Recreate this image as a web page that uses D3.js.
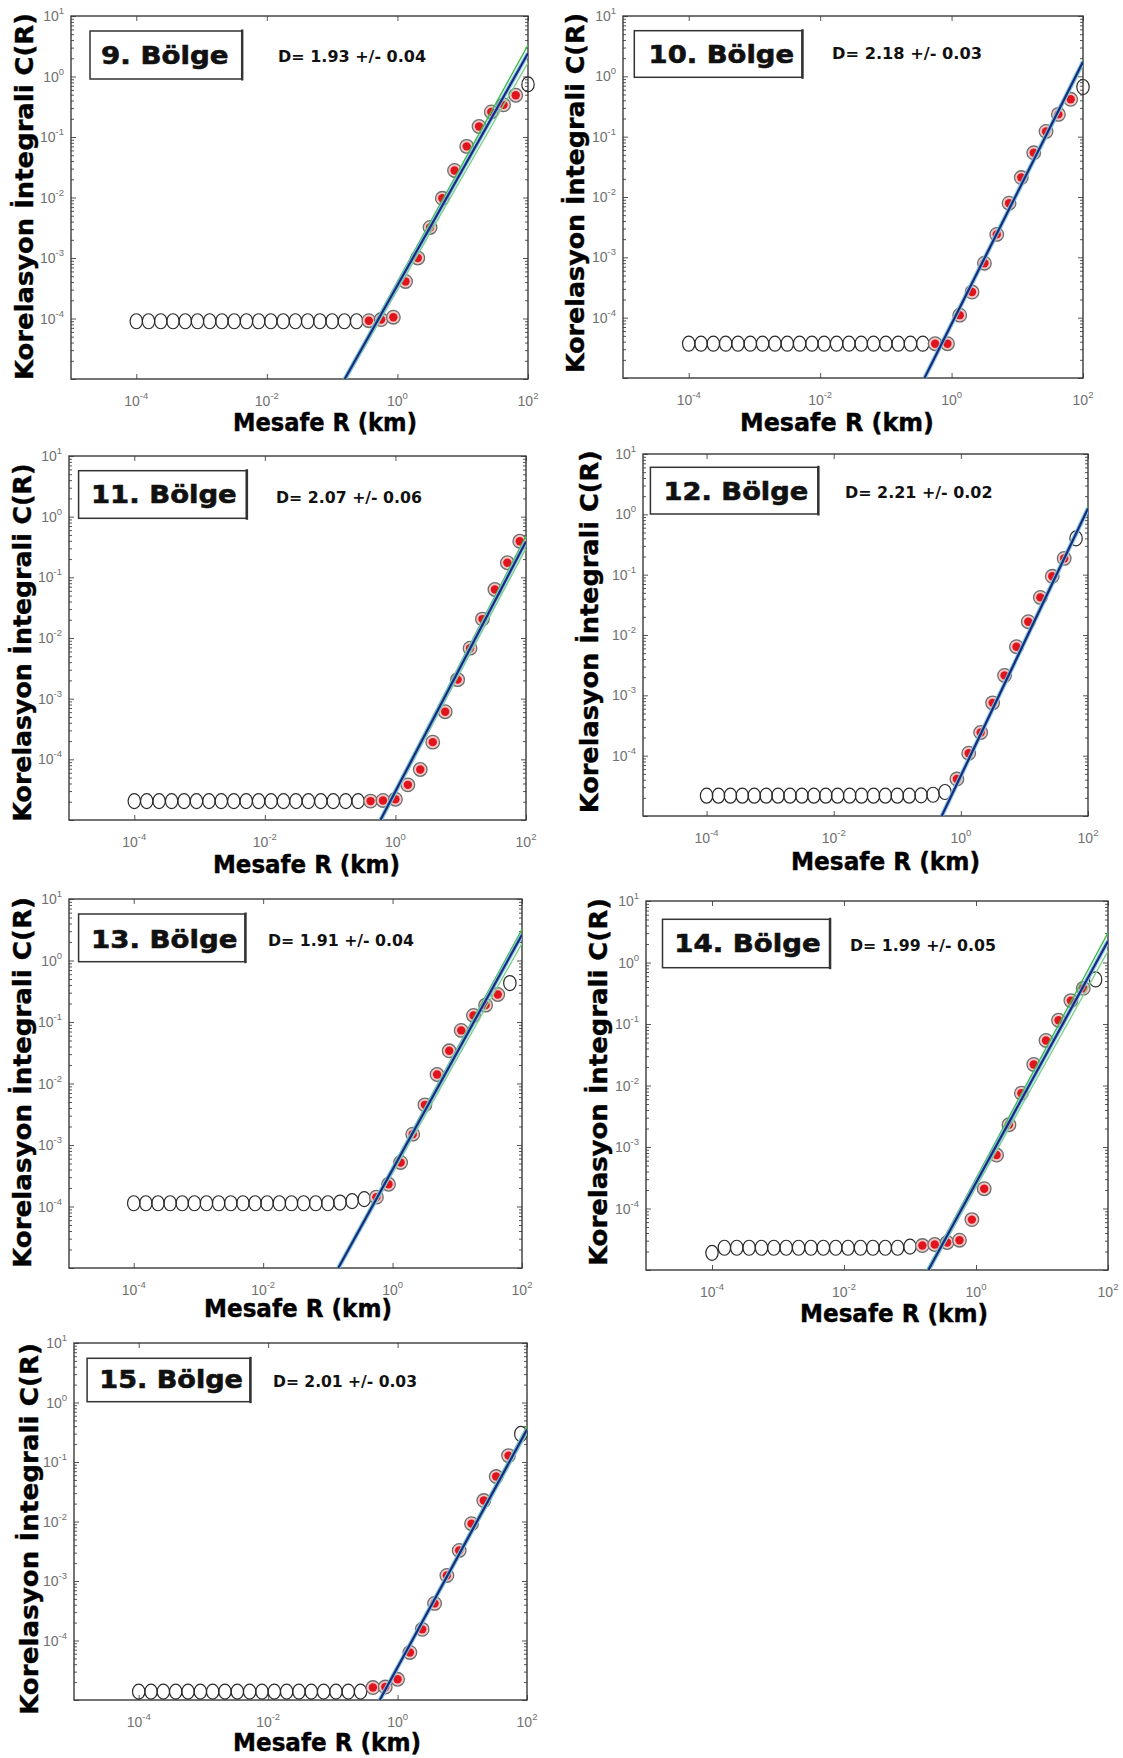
<!DOCTYPE html>
<html><head><meta charset="utf-8">
<script src="https://cdn.jsdelivr.net/npm/d3@7"></script>
<style>body{margin:0;background:#fff}svg{display:block}</style>
</head><body><svg id="c" width="1123" height="1758"></svg>
<script>
// ---------- DATA ----------
// distance grids (km)
const R_A = [1.00e-4, 1.54e-4, 2.37e-4, 3.65e-4, 5.62e-4, 8.66e-4, 1.33e-3, 2.05e-3, 3.16e-3, 4.87e-3,
  7.50e-3, 1.15e-2, 1.78e-2, 2.74e-2, 4.22e-2, 6.49e-2, 0.100, 0.154, 0.237, 0.365,
  0.562, 0.866, 1.33, 2.05, 3.16, 4.87, 7.50, 11.5, 17.8, 27.4, 42.2, 64.9, 100];
const R_B = [1.00e-4, 1.55e-4, 2.40e-4, 3.73e-4, 5.78e-4, 8.96e-4, 1.39e-3, 2.15e-3, 3.34e-3, 5.18e-3,
  8.03e-3, 1.245e-2, 1.93e-2, 2.99e-2, 4.64e-2, 7.20e-2, 0.1116, 0.173, 0.268, 0.416,
  0.645, 1.0, 1.55, 2.40, 3.73, 5.78, 8.96, 13.9, 21.5, 33.4, 51.8, 80.3];

const regions = ["9. Bölge", "10. Bölge", "11. Bölge", "12. Bölge", "13. Bölge", "14. Bölge", "15. Bölge"];
const dLabels = ["D= 1.93 +/- 0.04", "D= 2.18 +/- 0.03", "D= 2.07 +/- 0.06", "D= 2.21 +/- 0.02",
  "D= 1.91 +/- 0.04", "D= 1.99 +/- 0.05", "D= 2.01 +/- 0.03"];

const C9 = [9.0e-5, 9.0e-5, 9.0e-5, 9.0e-5, 9.0e-5, 9.0e-5, 9.0e-5, 9.0e-5, 9.0e-5, 9.0e-5,
  9.0e-5, 9.0e-5, 9.0e-5, 9.0e-5, 9.0e-5, 9.0e-5, 9.0e-5, 9.0e-5, 9.0e-5, 9.2e-5,
  9.6e-5, 1.05e-4, 4.1e-4, 1.0e-3, 3.2e-3, 9.7e-3, 2.8e-2, 7.0e-2, 0.149, 0.26, 0.34, 0.49, 0.74];
const C10 = [3.7e-5, 3.7e-5, 3.7e-5, 3.7e-5, 3.7e-5, 3.7e-5, 3.7e-5, 3.7e-5, 3.7e-5, 3.7e-5,
  3.7e-5, 3.7e-5, 3.7e-5, 3.7e-5, 3.7e-5, 3.7e-5, 3.7e-5, 3.7e-5, 3.7e-5, 3.7e-5,
  3.7e-5, 3.7e-5, 1.1e-4, 2.66e-4, 8.0e-4, 2.4e-3, 7.9e-3, 2.1e-2, 5.4e-2, 0.122, 0.234, 0.416, 0.665];
const C11 = [2.05e-5, 2.05e-5, 2.05e-5, 2.05e-5, 2.05e-5, 2.05e-5, 2.05e-5, 2.05e-5, 2.05e-5, 2.05e-5,
  2.05e-5, 2.05e-5, 2.05e-5, 2.05e-5, 2.05e-5, 2.05e-5, 2.05e-5, 2.05e-5, 2.05e-5, 2.05e-5,
  2.1e-5, 2.2e-5, 3.8e-5, 6.8e-5, 1.92e-4, 6.1e-4, 2.06e-3, 6.8e-3, 2.05e-2, 6.3e-2, 0.174, 0.393];
const C12 = [2.17e-5, 2.17e-5, 2.17e-5, 2.17e-5, 2.17e-5, 2.17e-5, 2.17e-5, 2.17e-5, 2.17e-5, 2.17e-5,
  2.17e-5, 2.17e-5, 2.17e-5, 2.17e-5, 2.17e-5, 2.17e-5, 2.17e-5, 2.17e-5, 2.2e-5, 2.25e-5,
  2.5e-5, 4.1e-5, 1.1e-4, 2.42e-4, 7.5e-4, 2.14e-3, 6.4e-3, 1.66e-2, 4.2e-2, 9.4e-2, 0.186, 0.40];
const C13 = [1.13e-4, 1.13e-4, 1.13e-4, 1.13e-4, 1.13e-4, 1.13e-4, 1.13e-4, 1.13e-4, 1.13e-4, 1.13e-4,
  1.13e-4, 1.13e-4, 1.13e-4, 1.13e-4, 1.13e-4, 1.13e-4, 1.13e-4, 1.16e-4, 1.22e-4, 1.32e-4,
  1.42e-4, 2.3e-4, 5.2e-4, 1.5e-3, 4.5e-3, 1.4e-2, 3.4e-2, 7.3e-2, 0.128, 0.188, 0.28, 0.43];
const C14 = [1.9e-5, 2.3e-5, 2.3e-5, 2.3e-5, 2.3e-5, 2.3e-5, 2.3e-5, 2.3e-5, 2.3e-5, 2.3e-5,
  2.3e-5, 2.3e-5, 2.3e-5, 2.3e-5, 2.3e-5, 2.3e-5, 2.4e-5, 2.5e-5, 2.6e-5, 2.8e-5,
  3.05e-5, 6.6e-5, 2.1e-4, 7.4e-4, 2.3e-3, 7.5e-3, 2.2e-2, 5.4e-2, 0.115, 0.24, 0.38, 0.53];
const C15 = [1.38e-5, 1.38e-5, 1.38e-5, 1.38e-5, 1.38e-5, 1.38e-5, 1.38e-5, 1.38e-5, 1.38e-5, 1.38e-5,
  1.38e-5, 1.38e-5, 1.38e-5, 1.38e-5, 1.38e-5, 1.38e-5, 1.38e-5, 1.38e-5, 1.38e-5, 1.62e-5,
  1.65e-5, 2.23e-5, 6.3e-5, 1.54e-4, 4.2e-4, 1.24e-3, 3.26e-3, 9.2e-3, 2.25e-2, 5.7e-2, 0.128, 0.296];

const grids = [R_A, R_A, R_B, R_A, R_A, R_A, R_B];
const cValues = [C9, C10, C11, C12, C13, C14, C15];
// first / last index of the points used in the fit (red)
const fitRange = [[19, 31], [20, 31], [19, 31], [21, 30], [20, 30], [17, 30], [19, 30]];

// fitted lines: endpoints [R, C]
const navyLines = [
  [[0.156, 1e-5], [100, 2.42]], [[0.387, 1e-5], [100, 1.75]], [[0.59, 1e-5], [100, 0.39]],
  [[0.50, 1e-5], [100, 1.25]], [[0.145, 1e-5], [100, 2.63]], [[0.19, 1e-5], [100, 2.23]],
  [[0.53, 1e-5], [100, 0.35]]];
const greenHi = [
  [[0.150, 1e-5], [100, 3.3]], [[0.38, 1e-5], [100, 1.85]], [[0.57, 1e-5], [100, 0.48]],
  [[0.49, 1e-5], [100, 1.36]], [[0.14, 1e-5], [100, 3.2]], [[0.18, 1e-5], [100, 3.05]],
  [[0.52, 1e-5], [100, 0.40]]];
const greenLo = [
  [[0.165, 1e-5], [100, 1.7]], [[0.395, 1e-5], [100, 1.55]], [[0.62, 1e-5], [100, 0.30]],
  [[0.51, 1e-5], [100, 1.15]], [[0.15, 1e-5], [100, 1.9]], [[0.20, 1e-5], [100, 1.53]],
  [[0.54, 1e-5], [100, 0.30]]];

const xTicks = [1e-4, 1e-2, 1e0, 1e2];
const xTickExp = ["-4", "-2", "0", "2"];
const yTicks = [1e1, 1e0, 1e-1, 1e-2, 1e-3, 1e-4];
const yTickExp = ["1", "0", "-1", "-2", "-3", "-4"];
const xTitle = "Mesafe R (km)";
const yTitle = "Korelasyon İntegrali C(R)";

// ---------- LAYOUT ----------
const layout = [
  {l:71, r:528, t:16, b:379, box:[90,31,241.7,79], lab:[101,64,127.5], dt:[278,62,148], yt:[33,196.5,367], xt:[233,417,431]},
  {l:623, r:1083, t:16, b:378, box:[634.3,30.7,802,77.3], lab:[648.6,62.7,145.4], dt:[832,59,150], yt:[584,193,360], xt:[740,934,431]},
  {l:69, r:526, t:456, b:820, box:[78.6,470.7,246.4,518.3], lab:[91,503.3,145.7], dt:[276,502.5,146], yt:[31,642.5,358], xt:[213,400,873]},
  {l:643, r:1088, t:454, b:816, box:[650.4,467.3,817.9,514], lab:[663.6,500,144.6], dt:[845,498,147.5], yt:[598,631.7,363], xt:[791,980,870]},
  {l:69, r:522, t:899, b:1268, box:[78.6,914,245,961.7], lab:[91,948.3,146.4], dt:[268,945.5,146], yt:[31,1082.5,371], xt:[204,392,1317]},
  {l:646, r:1108, t:901, b:1270, box:[662.5,919.3,829.6,967.7], lab:[674.3,952.3,146.4], dt:[850,950.5,146], yt:[607,1082,368], xt:[800,988,1322]},
  {l:74, r:527, t:1343, b:1700, box:[87.1,1358.3,250,1401.7], lab:[99.3,1388.3,143.6], dt:[273,1387,144], yt:[38,1529,372], xt:[233,421,1751]}
];

const svg = d3.select("#c");
svg.append("rect").attr("width",1123).attr("height",1758).attr("fill","#fff");
const BOLD = "'DejaVu Sans', sans-serif";
const TICKF = "'Liberation Sans Narrow', 'Liberation Sans', Arial, sans-serif";

layout.forEach((L, p) => {
  const x = d3.scaleLog().domain([1e-5, 1e2]).range([L.l, L.r]);
  const y = d3.scaleLog().domain([1e-5, 1e1]).range([L.b, L.t]);
  const g = svg.append("g");
  const clipId = "clip" + p;
  g.append("clipPath").attr("id", clipId).append("rect")
    .attr("x", L.l).attr("y", L.t).attr("width", L.r - L.l).attr("height", L.b - L.t);

  // ticks
  const tickCol = "#555";
  const ax = [
    g.append("g").attr("transform", `translate(0,${L.b})`).call(d3.axisBottom(x).tickValues(xTicks).tickSize(-5).tickFormat(() => "")),
    g.append("g").attr("transform", `translate(0,${L.t})`).call(d3.axisTop(x).tickValues(xTicks).tickSize(-5).tickFormat(() => "")),
  ];
  const allY = y.ticks();
  const majY = allY.filter(v => Math.abs(Math.log10(v) - Math.round(Math.log10(v))) < 1e-6);
  const minY = allY.filter(v => !majY.includes(v));
  ax.push(g.append("g").attr("transform", `translate(${L.l},0)`).call(d3.axisLeft(y).tickValues(majY).tickSize(-5).tickFormat(() => "")));
  ax.push(g.append("g").attr("transform", `translate(${L.l},0)`).call(d3.axisLeft(y).tickValues(minY).tickSize(-3).tickFormat(() => "")));
  ax.push(g.append("g").attr("transform", `translate(${L.r},0)`).call(d3.axisRight(y).tickValues(majY).tickSize(-5).tickFormat(() => "")));
  ax.push(g.append("g").attr("transform", `translate(${L.r},0)`).call(d3.axisRight(y).tickValues(minY).tickSize(-3).tickFormat(() => "")));
  ax.forEach(a => { a.select(".domain").remove(); a.selectAll("line").attr("stroke", tickCol).attr("stroke-width", 1); });

  // frame
  g.append("rect").attr("x", L.l).attr("y", L.t).attr("width", L.r - L.l).attr("height", L.b - L.t)
    .attr("fill", "none").attr("stroke", "#3a3a3a").attr("stroke-width", 1.4);

  // tick labels
  xTicks.forEach((v, i) => {
    const t = g.append("text").attr("x", x(v)).attr("y", L.b + 27).attr("text-anchor", "middle")
      .attr("font-family", TICKF).attr("font-size", 14).attr("fill", "#707070");
    t.append("tspan").text("10");
    t.append("tspan").attr("dy", -7).attr("font-size", 9.5).text(xTickExp[i]);
  });
  yTicks.forEach((v, i) => {
    const t = g.append("text").attr("x", L.l - 7).attr("y", y(v) + 5).attr("text-anchor", "end")
      .attr("font-family", TICKF).attr("font-size", 14).attr("fill", "#707070");
    t.append("tspan").text("10");
    t.append("tspan").attr("dy", -7).attr("font-size", 9.5).text(yTickExp[i]);
  });

  // data points
  const grid = grids[p], cv = cValues[p], fr = fitRange[p];
  const pts = cv.map((c, i) => ({ r: grid[i], c, fit: i >= fr[0] && i <= fr[1] }));
  g.selectAll(".hol").data(pts.filter(d => !d.fit)).join("ellipse")
    .attr("cx", d => x(d.r)).attr("cy", d => y(d.c)).attr("rx", 6.2).attr("ry", 7.5)
    .attr("fill", "none").attr("stroke", "#2a2a2a").attr("stroke-width", 1.2);
  const fp = pts.filter(d => d.fit);
  g.selectAll(".ring").data(fp).join("circle")
    .attr("cx", d => x(d.r)).attr("cy", d => y(d.c)).attr("r", 6.8)
    .attr("fill", "#f4c6c6").attr("stroke", "#6d6d6d").attr("stroke-width", 1.3);
  g.selectAll(".dot").data(fp).join("circle")
    .attr("cx", d => x(d.r)).attr("cy", d => y(d.c)).attr("r", 4.2)
    .attr("fill", "#e0141c");

  // fit lines
  const line = d3.line().x(d => x(d[0])).y(d => y(d[1]));
  const lg = g.append("g").attr("clip-path", `url(#${clipId})`);
  lg.append("path").attr("d", line(greenHi[p])).attr("stroke", "#3dbb4a").attr("stroke-width", 1.4).attr("fill", "none");
  lg.append("path").attr("d", line(greenLo[p])).attr("stroke", "#7fd08a").attr("stroke-width", 1.4).attr("fill", "none");
  lg.append("path").attr("d", line(navyLines[p])).attr("stroke", "#7cc6e2").attr("stroke-width", 4.5).attr("fill", "none").attr("opacity", 0.85);
  lg.append("path").attr("d", line(navyLines[p])).attr("stroke", "#1b2a7e").attr("stroke-width", 2.2).attr("fill", "none");

  // region box
  const [bx0, by0, bx1, by1] = L.box;
  g.append("rect").attr("x", bx0).attr("y", by0).attr("width", bx1 - bx0).attr("height", by1 - by0)
    .attr("fill", "#fff").attr("stroke", "#333").attr("stroke-width", 1.5);
  g.append("line").attr("x1", bx1 + 0.5).attr("x2", bx1 + 0.5).attr("y1", by0 - 1.5).attr("y2", by1 + 1.5)
    .attr("stroke", "#333").attr("stroke-width", 2.4);
  g.append("text").attr("x", L.lab[0]).attr("y", L.lab[1]).attr("textLength", L.lab[2]).attr("lengthAdjust", "spacingAndGlyphs")
    .attr("font-family", BOLD).attr("font-weight", "bold").attr("font-size", 24).attr("fill", "#111")
    .attr("stroke", "#111").attr("stroke-width", 0.6)
    .text(regions[p]);

  // D label
  g.append("text").attr("x", L.dt[0]).attr("y", L.dt[1]).attr("textLength", L.dt[2]).attr("lengthAdjust", "spacingAndGlyphs")
    .attr("font-family", BOLD).attr("font-weight", "bold").attr("font-size", 16).attr("fill", "#111")
    .text(dLabels[p]);

  // axis titles
  g.append("text").attr("x", L.xt[0]).attr("y", L.xt[2]).attr("textLength", L.xt[1] - L.xt[0]).attr("lengthAdjust", "spacingAndGlyphs")
    .attr("font-family", BOLD).attr("font-weight", "bold").attr("font-size", 24).attr("fill", "#000")
    .attr("stroke", "#000").attr("stroke-width", 0.4)
    .text(xTitle);
  g.append("text").attr("transform", `translate(${L.yt[0]},${L.yt[1]}) rotate(-90)`)
    .attr("text-anchor", "middle").attr("textLength", L.yt[2]).attr("lengthAdjust", "spacingAndGlyphs")
    .attr("font-family", BOLD).attr("font-weight", "bold").attr("font-size", 25).attr("fill", "#000")
    .attr("stroke", "#000").attr("stroke-width", 0.4)
    .text(yTitle);
});
</script>
</body></html>
